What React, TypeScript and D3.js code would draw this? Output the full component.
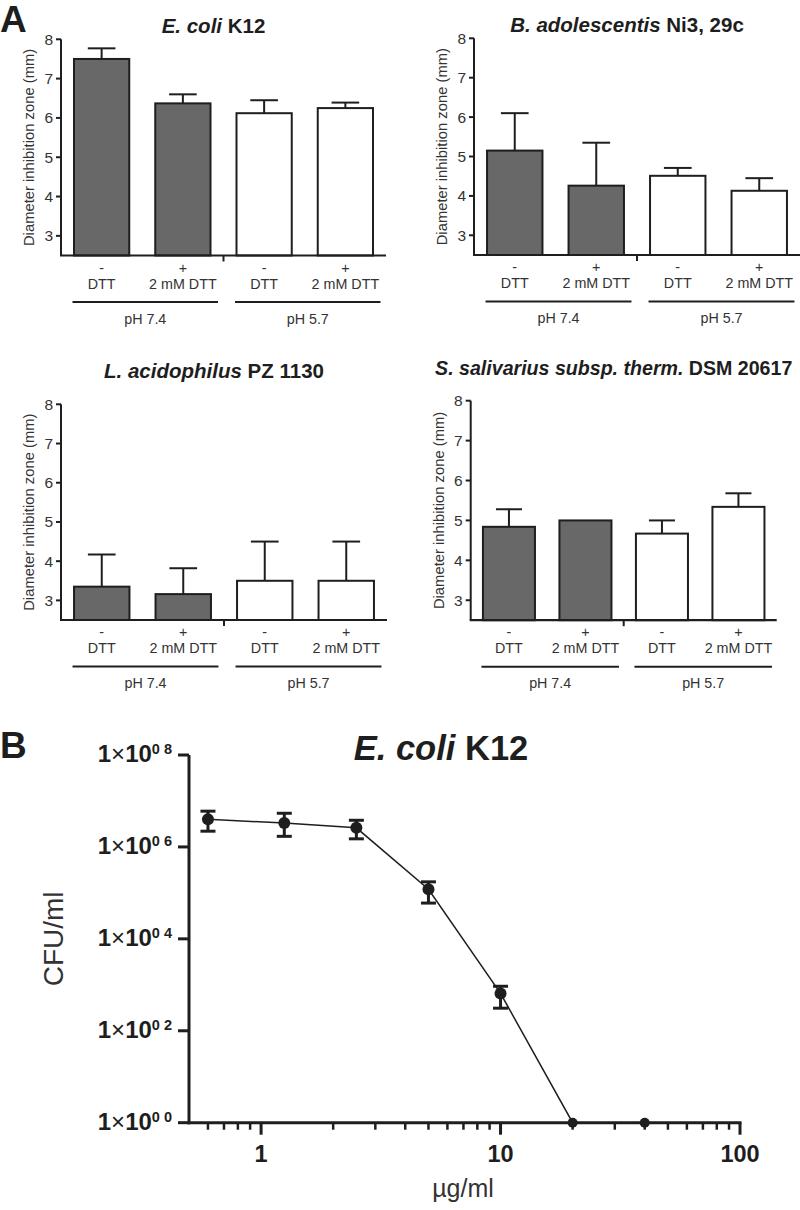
import React from "react";
import * as d3 from "d3";

// ---------- Data ----------
const categorySigns = ["-", "+", "-", "+"];
const categoryNames = ["DTT", "2 mM DTT", "DTT", "2 mM DTT"];
const groupLabels = ["pH 7.4", "pH 5.7"];
const barFilled = [true, true, false, false];
const yTicksA = [3, 4, 5, 6, 7, 8];

const ecoliMeans = [7.5, 6.37, 6.12, 6.25];
const ecoliErr = [0.27, 0.23, 0.33, 0.14];
const badoMeans = [5.15, 4.26, 4.51, 4.13];
const badoErr = [0.95, 1.09, 0.2, 0.32];
const lacidMeans = [3.35, 3.16, 3.5, 3.5];
const lacidErr = [0.82, 0.66, 1.0, 1.0];
const ssalMeans = [4.84, 5.0, 4.67, 5.34];
const ssalErr = [0.44, 0.0, 0.33, 0.34];

const conc = [0.6, 1.25, 2.5, 5, 10, 20, 40];
const cfu = [4.0e6, 3.3e6, 2.6e6, 1.2e5, 650, 1, 1];
const cfuHigh = [6.0e6, 5.4e6, 3.8e6, 1.74e5, 930, 1, 1];
const cfuLow = [2.2e6, 1.7e6, 1.5e6, 6.0e4, 310, 1, 1];
const yTicksB = [1, 1e2, 1e4, 1e6, 1e8];
const yTickExpB = ["0 0", "0 2", "0 4", "0 6", "0 8"];
const xMajorB = [1, 10, 100];
const xMinorB = [0.6, 0.7, 0.8, 0.9, 2, 3, 4, 5, 6, 7, 8, 9, 20, 30, 40, 50, 60, 70, 80, 90];

const FONT = "'Liberation Sans', Arial, Helvetica, sans-serif";
const DARK = "#1e1e1e";
const GRAY = "#686868";

type TitlePart = { t: string; italic: boolean };

interface PanelProps {
  title: TitlePart[];
  titleY: number;
  titleSize: number;
  left: number;
  right: number;
  top: number; // y for value 8
  bottom: number; // y for value 2.5 (x axis)
  means: number[];
  errs: number[];
}

function BarPanel(p: PanelProps) {
  const y = d3.scaleLinear().domain([2.5, 8]).range([p.bottom, p.top]);
  const x = d3
    .scaleBand<number>()
    .domain([0, 1, 2, 3])
    .range([p.left, p.right])
    .paddingInner(0.32)
    .paddingOuter(0.16);
  const bw = x.bandwidth();
  const mid = (p.left + p.right) / 2;
  const groups = [
    [0, 1],
    [2, 3],
  ];
  return (
    <g fontFamily={FONT}>
      <text x={mid - 10} y={p.titleY} textAnchor="middle" fontSize={p.titleSize} fontWeight="bold" fill={DARK}>
        {p.title.map((tp, i) => (
          <tspan key={i} fontStyle={tp.italic ? "italic" : "normal"}>
            {tp.t}
          </tspan>
        ))}
      </text>
      {/* y axis label */}
      <text
        transform={`translate(${p.left - 32},${(p.top + p.bottom) / 2}) rotate(-90)`}
        textAnchor="middle"
        dominantBaseline="central"
        fontSize={14.8}
        fill="#333"
      >
        Diameter inhibition zone (mm)
      </text>
      {/* bars */}
      {p.means.map((m, i) => {
        const cx = (x(i) as number) + bw / 2;
        return (
          <g key={i}>
            {p.errs[i] > 0 && (
              <g stroke={DARK} strokeWidth={2}>
                <line x1={cx} x2={cx} y1={y(m)} y2={y(m + p.errs[i])} />
                <line x1={cx - bw * 0.25} x2={cx + bw * 0.25} y1={y(m + p.errs[i])} y2={y(m + p.errs[i])} />
              </g>
            )}
            <rect
              x={x(i)}
              y={y(m)}
              width={bw}
              height={y(2.5) - y(m)}
              fill={barFilled[i] ? GRAY : "#fff"}
              stroke={DARK}
              strokeWidth={2}
            />
          </g>
        );
      })}
      {/* axes */}
      <line x1={p.left} x2={p.left} y1={p.top} y2={p.bottom} stroke={DARK} strokeWidth={2} />
      <line x1={p.left - 1} x2={p.right} y1={p.bottom} y2={p.bottom} stroke={DARK} strokeWidth={2.2} />
      <line x1={mid} x2={mid} y1={p.bottom} y2={p.bottom + 6} stroke={DARK} strokeWidth={2} />
      {yTicksA.map((t) => (
        <g key={t}>
          <line x1={p.left - 5} x2={p.left} y1={y(t)} y2={y(t)} stroke={DARK} strokeWidth={2} />
          <text x={p.left - 8} y={y(t)} textAnchor="end" dominantBaseline="central" fontSize={15.5} fill="#333">
            {t}
          </text>
        </g>
      ))}
      {/* category labels */}
      {categoryNames.map((c, i) => {
        const cx = (x(i) as number) + bw / 2;
        return (
          <g key={i} fontSize={14.3} fill="#333" textAnchor="middle">
            <text x={cx} y={p.bottom + 17}>
              {categorySigns[i]}
            </text>
            <text x={cx} y={p.bottom + 33}>
              {c}
            </text>
          </g>
        );
      })}
      {groups.map((g, gi) => {
        const x1 = (x(g[0]) as number) - 1.5;
        const x2 = (x(g[1]) as number) + bw + 7.5;
        return (
          <g key={gi}>
            <line x1={x1} x2={x2} y1={p.bottom + 46.5} y2={p.bottom + 46.5} stroke={DARK} strokeWidth={2} />
            <text x={(x1 + x2) / 2} y={p.bottom + 68} textAnchor="middle" fontSize={14.3} fill="#333">
              {groupLabels[gi]}
            </text>
          </g>
        );
      })}
    </g>
  );
}

function CurvePanel() {
  const left = 189;
  const right = 740;
  const top = 755;
  const bottom = 1122.7;
  const x = d3.scaleLog().domain([0.5, 100]).range([left, right]);
  const y = d3.scaleLog().domain([1, 1e8]).range([bottom, top]);
  const pts = conc.map((c, i) => [x(c), y(cfu[i])] as [number, number]);
  const line = d3.line()(pts) || "";
  return (
    <g fontFamily={FONT}>
      <text x={0} y={758} fontSize={37} fontWeight="bold" fill={DARK}>
        B
      </text>
      <text x={441} y={760} textAnchor="middle" fontSize={34.5} fontWeight="bold" fill={DARK}>
        <tspan fontStyle="italic">E. coli</tspan>
        <tspan> K12</tspan>
      </text>
      <text
        transform={`translate(53,${(top + bottom) / 2}) rotate(-90)`}
        textAnchor="middle"
        dominantBaseline="central"
        fontSize={28}
        fill="#333"
      >
        CFU/ml
      </text>
      <text x={463} y={1197} textAnchor="middle" fontSize={25} fill="#333">
        µg/ml
      </text>
      {/* data line */}
      <path d={line} fill="none" stroke={DARK} strokeWidth={1.5} />
      {/* axes */}
      <line x1={left} x2={left} y1={top} y2={bottom + 1.5} stroke={DARK} strokeWidth={3} />
      <line x1={left - 1.5} x2={right + 1.5} y1={bottom} y2={bottom} stroke={DARK} strokeWidth={3} />
      {yTicksB.map((t, i) => (
        <g key={t}>
          <line x1={left - 11} x2={left} y1={y(t)} y2={y(t)} stroke={DARK} strokeWidth={3} />
          <text x={172} y={y(t) + 7} textAnchor="end" fill={DARK} fontWeight="bold" fontSize={24}>
            <tspan>1</tspan>
            <tspan fontWeight="normal">×</tspan>
            <tspan>10</tspan>
            <tspan dy={-8} fontSize={14.5}>
              {yTickExpB[i]}
            </tspan>
          </text>
        </g>
      ))}
      {xMajorB.map((t) => (
        <g key={t}>
          <line x1={x(t)} x2={x(t)} y1={bottom} y2={bottom + 12} stroke={DARK} strokeWidth={3} />
          <text x={x(t)} y={1162} textAnchor="middle" fontSize={23.5} fontWeight="bold" fill={DARK}>
            {t}
          </text>
        </g>
      ))}
      {xMinorB.map((t) => (
        <line key={t} x1={x(t)} x2={x(t)} y1={bottom} y2={bottom + 7} stroke={DARK} strokeWidth={2.5} />
      ))}
      {/* error bars + markers */}
      {conc.map((c, i) => {
        const cx = x(c);
        const hasErr = cfuHigh[i] !== cfuLow[i];
        return (
          <g key={i}>
            {hasErr && (
              <g stroke={DARK} strokeWidth={3}>
                <line x1={cx} x2={cx} y1={y(cfuHigh[i])} y2={y(cfuLow[i])} />
                <line x1={cx - 7.5} x2={cx + 7.5} y1={y(cfuHigh[i])} y2={y(cfuHigh[i])} />
                <line x1={cx - 7.5} x2={cx + 7.5} y1={y(cfuLow[i])} y2={y(cfuLow[i])} />
              </g>
            )}
            <circle cx={cx} cy={y(cfu[i])} r={hasErr ? 6 : 5} fill={DARK} />
          </g>
        );
      })}
    </g>
  );
}

export default function App() {
  return (
    <svg
      width={800}
      height={1210}
      style={{ position: "absolute", left: 0, top: 0, background: "#fff" }}
    >
      <rect x={0} y={0} width={800} height={1210} fill="#fff" />
      <text x={0} y={32} fontFamily={FONT} fontSize={37} fontWeight="bold" fill={DARK}>
        A
      </text>
      <BarPanel
        title={[
          { t: "E. coli", italic: true },
          { t: " K12", italic: false },
        ]}
        titleY={33}
        titleSize={20.5}
        left={61}
        right={386}
        top={39.3}
        bottom={255.5}
        means={ecoliMeans}
        errs={ecoliErr}
      />
      <BarPanel
        title={[
          { t: "B. adolescentis", italic: true },
          { t: " Ni3, 29c", italic: false },
        ]}
        titleY={32}
        titleSize={20.5}
        left={474}
        right={800}
        top={38.3}
        bottom={255}
        means={badoMeans}
        errs={badoErr}
      />
      <BarPanel
        title={[
          { t: "L. acidophilus", italic: true },
          { t: " PZ 1130", italic: false },
        ]}
        titleY={378}
        titleSize={20.5}
        left={61}
        right={387}
        top={404.3}
        bottom={620}
        means={lacidMeans}
        errs={lacidErr}
      />
      <BarPanel
        title={[
          { t: "S. salivarius subsp. therm.", italic: true },
          { t: " DSM 20617", italic: false },
        ]}
        titleY={375}
        titleSize={19.6}
        left={470.7}
        right={776.7}
        top={400.7}
        bottom={620.2}
        means={ssalMeans}
        errs={ssalErr}
      />
      <CurvePanel />
    </svg>
  );
}
